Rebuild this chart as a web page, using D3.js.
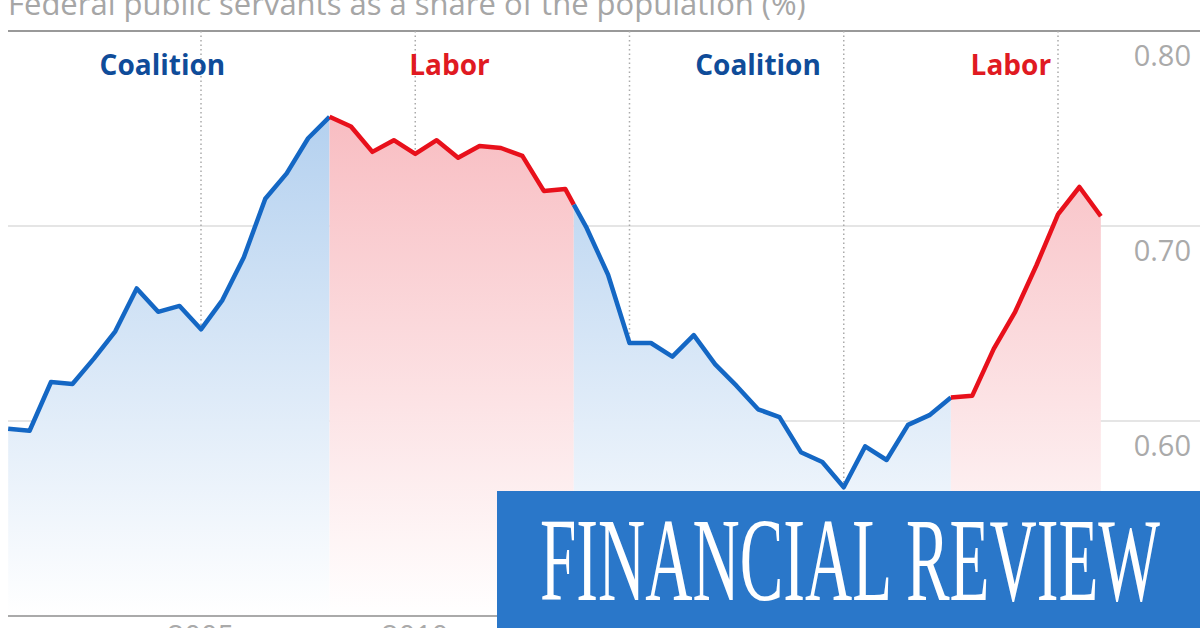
<!DOCTYPE html>
<html>
<head>
<meta charset="utf-8">
<script src="https://cdn.jsdelivr.net/npm/d3@7"></script>
<style>
  body { margin: 0; background: #fff; }
  svg { display: block; }
</style>
</head>
<body>
<div id="chart"></div>
<script>
// half-yearly readings, 2000.5 .. 2026.0
var startYear = 2000.5
var values = [0.596, 0.595, 0.620, 0.619, 0.632, 0.646, 0.668, 0.656, 0.659, 0.647,
  0.662, 0.684, 0.714, 0.727, 0.745, 0.756, 0.751, 0.738, 0.744, 0.737,
  0.744, 0.735, 0.741, 0.740, 0.736, 0.718, 0.719, 0.699, 0.675, 0.640,
  0.640, 0.633, 0.644, 0.629, 0.618, 0.606, 0.602, 0.584, 0.579, 0.566,
  0.587, 0.580, 0.598, 0.603, 0.612, 0.613, 0.637, 0.656, 0.680, 0.706,
  0.720, 0.705]
var periodNames = ["Coalition", "Labor", "Coalition", "Labor"]
var periodStarts = [2000.5, 2008.0, 2013.7, 2022.5]
var periodEnds = [2008.0, 2013.7, 2022.5, 2026.0]
var labelYears = [2004.1, 2010.8, 2018.0, 2023.9]
var yTicks = [0.60, 0.70, 0.80]
var xTicks = [2005, 2010, 2015, 2020, 2025]
var title = "Federal public servants as a share of the population (%)"

var data = values.map(function (v, i) { return { year: startYear + i * 0.5, value: v } })

var width = 1200, height = 628
var svg = d3.select("#chart").append("svg").attr("width", width).attr("height", height)

var x = d3.scaleLinear().domain([2005, 2025]).range([201, 1058])
var y = d3.scaleLinear().domain([0.5, 0.8]).range([616, 31])

var colors = { Coalition: "#1467c4", Labor: "#e8101b" }
var labelColors = { Coalition: "#0f4c99", Labor: "#e01a22" }
var fillColors = { Coalition: "#b3d0ef", Labor: "#f8bcc1" }

var defs = svg.append("defs")
Object.keys(fillColors).forEach(function (k) {
  var g = defs.append("linearGradient").attr("id", "grad" + k)
    .attr("gradientUnits", "userSpaceOnUse")
    .attr("x1", 0).attr("x2", 0).attr("y1", y(0.76)).attr("y2", y(0.5))
  g.append("stop").attr("offset", 0).attr("stop-color", fillColors[k])
  g.append("stop").attr("offset", 1).attr("stop-color", "#fff")
})

// title (cropped at top)
svg.append("text").attr("x", 8).attr("y", 15)
  .attr("font-family", "Open Sans, sans-serif").attr("font-size", 31)
  .attr("fill", "#a6a6a6").text(title)

// gridlines
svg.selectAll(".hgrid").data(yTicks).enter().append("line")
  .attr("x1", 8).attr("x2", width)
  .attr("y1", function (d) { return y(d) }).attr("y2", function (d) { return y(d) })
  .attr("stroke", function (d) { return d == 0.8 ? "#999" : "#ddd" })
  .attr("stroke-width", function (d) { return d == 0.8 ? 2 : 1.5 })

svg.selectAll(".vgrid").data(xTicks).enter().append("line")
  .attr("x1", function (d) { return x(d) }).attr("x2", function (d) { return x(d) })
  .attr("y1", y(0.8)).attr("y2", y(0.5))
  .attr("stroke", "#aaa").attr("stroke-width", 1.5).attr("stroke-dasharray", "1.5,3")

function valueAt(yr) {
  var i = Math.floor((yr - startYear) / 0.5)
  if (i >= values.length - 1) return values[values.length - 1]
  var t = (yr - data[i].year) / 0.5
  return values[i] + (values[i + 1] - values[i]) * t
}

var area = d3.area().x(function (d) { return x(d.year) }).y0(y(0.5)).y1(function (d) { return y(d.value) })
var line = d3.line().x(function (d) { return x(d.year) }).y(function (d) { return y(d.value) })

var segments = periodNames.map(function (name, k) {
  var pts = data.filter(function (d) { return d.year > periodStarts[k] && d.year < periodEnds[k] })
  pts.unshift({ year: periodStarts[k], value: valueAt(periodStarts[k]) })
  if (periodEnds[k] <= data[data.length - 1].year)
    pts.push({ year: periodEnds[k], value: valueAt(periodEnds[k]) })
  return { name: name, pts: pts }
})

svg.selectAll(".area").data(segments).enter().append("path")
  .attr("d", function (d) { return area(d.pts) })
  .attr("fill", function (d) { return "url(#grad" + d.name + ")" })

// baseline
svg.append("line").attr("x1", 8).attr("x2", width).attr("y1", y(0.5)).attr("y2", y(0.5))
  .attr("stroke", "#aaa").attr("stroke-width", 2)

svg.selectAll(".line").data(segments).enter().append("path")
  .attr("d", function (d) { return line(d.pts) })
  .attr("fill", "none").attr("stroke", function (d) { return colors[d.name] })
  .attr("stroke-width", 4.5).attr("stroke-linejoin", "round")

svg.selectAll(".plabel").data(periodNames).enter().append("text")
  .attr("x", function (d, i) { return x(labelYears[i]) }).attr("y", 75)
  .attr("text-anchor", "middle")
  .attr("font-family", "Open Sans, sans-serif").attr("font-weight", "bold")
  .attr("font-size", 28).attr("fill", function (d) { return labelColors[d] })
  .text(function (d) { return d })

svg.selectAll(".ylab").data(yTicks).enter().append("text")
  .attr("x", 1191).attr("y", function (d) { return y(d) + 35 })
  .attr("text-anchor", "end")
  .attr("font-family", "Open Sans, sans-serif").attr("font-size", 29).attr("fill", "#aaa")
  .text(function (d) { return d.toFixed(2) })

svg.selectAll(".xlab").data(xTicks).enter().append("text")
  .attr("x", function (d) { return x(d) }).attr("y", 646)
  .attr("text-anchor", "middle")
  .attr("font-family", "Open Sans, sans-serif").attr("font-size", 29).attr("fill", "#aaa")
  .text(function (d) { return d })

// masthead banner
svg.append("rect").attr("x", 497).attr("y", 491).attr("width", 703).attr("height", 137).attr("fill", "#2a77c9")
svg.append("text").attr("x", 540).attr("y", 600)
  .attr("font-family", "Liberation Serif, serif").attr("font-size", 118)
  .attr("textLength", 620).attr("lengthAdjust", "spacingAndGlyphs")
  .attr("fill", "#fff").text("FINANCIAL REVIEW")
</script>
</body>
</html>
